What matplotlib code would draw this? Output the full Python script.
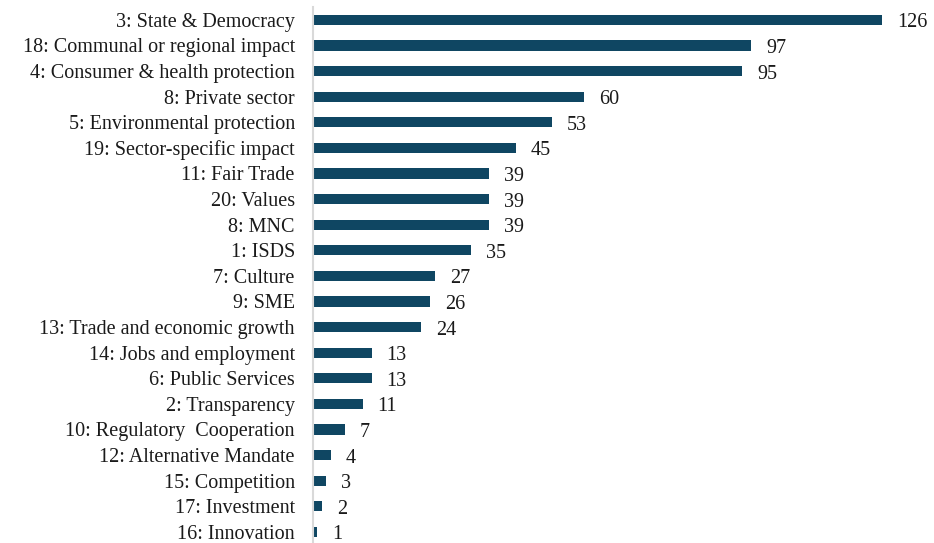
import matplotlib
matplotlib.use("Agg")
import matplotlib.pyplot as plt

categories = [
    "3: State & Democracy",
    "18: Communal or regional impact",
    "4: Consumer & health protection",
    "8: Private sector",
    "5: Environmental protection",
    "19: Sector-specific impact",
    "11: Fair Trade",
    "20: Values",
    "8: MNC",
    "1: ISDS",
    "7: Culture",
    "9: SME",
    "13: Trade and economic growth",
    "14: Jobs and employment",
    "6: Public Services",
    "2: Transparency",
    "10: Regulatory  Cooperation",
    "12: Alternative Mandate",
    "15: Competition",
    "17: Investment",
    "16: Innovation",
]
counts = [126, 97, 95, 60, 53, 45, 39, 39, 39, 35, 27, 26, 24, 13, 13, 11, 7, 4, 3, 2, 1]

bar_color = "#0f4662"
font = "Liberation Serif"

fig = plt.figure(figsize=(9.34, 5.43), dpi=100)
ax = fig.add_axes([0.335, -0.003, 0.653, 0.99])

y = list(range(len(categories)))
ax.barh(y, counts, height=0.4, color=bar_color)
ax.set_ylim(len(categories) - 0.5, -0.5)
ax.set_xlim(0, 135)

ax.set_yticks(y)
ax.set_yticklabels(categories, fontsize=14.5, family=font, color="#1a1a1a")
ax.tick_params(axis="y", length=0, pad=13)
ax.set_xticks([])

for s in ["top", "right", "bottom"]:
    ax.spines[s].set_visible(False)
ax.spines["left"].set_color("#d9d9d9")
ax.spines["left"].set_linewidth(1.5)

for yi, v in zip(y, counts):
    ax.text(v + 3.3, yi + 0.12, str(v), va="center", ha="left", fontsize=14.5,
            family=font, color="#1a1a1a")

fig.savefig("out.png", dpi=100)
